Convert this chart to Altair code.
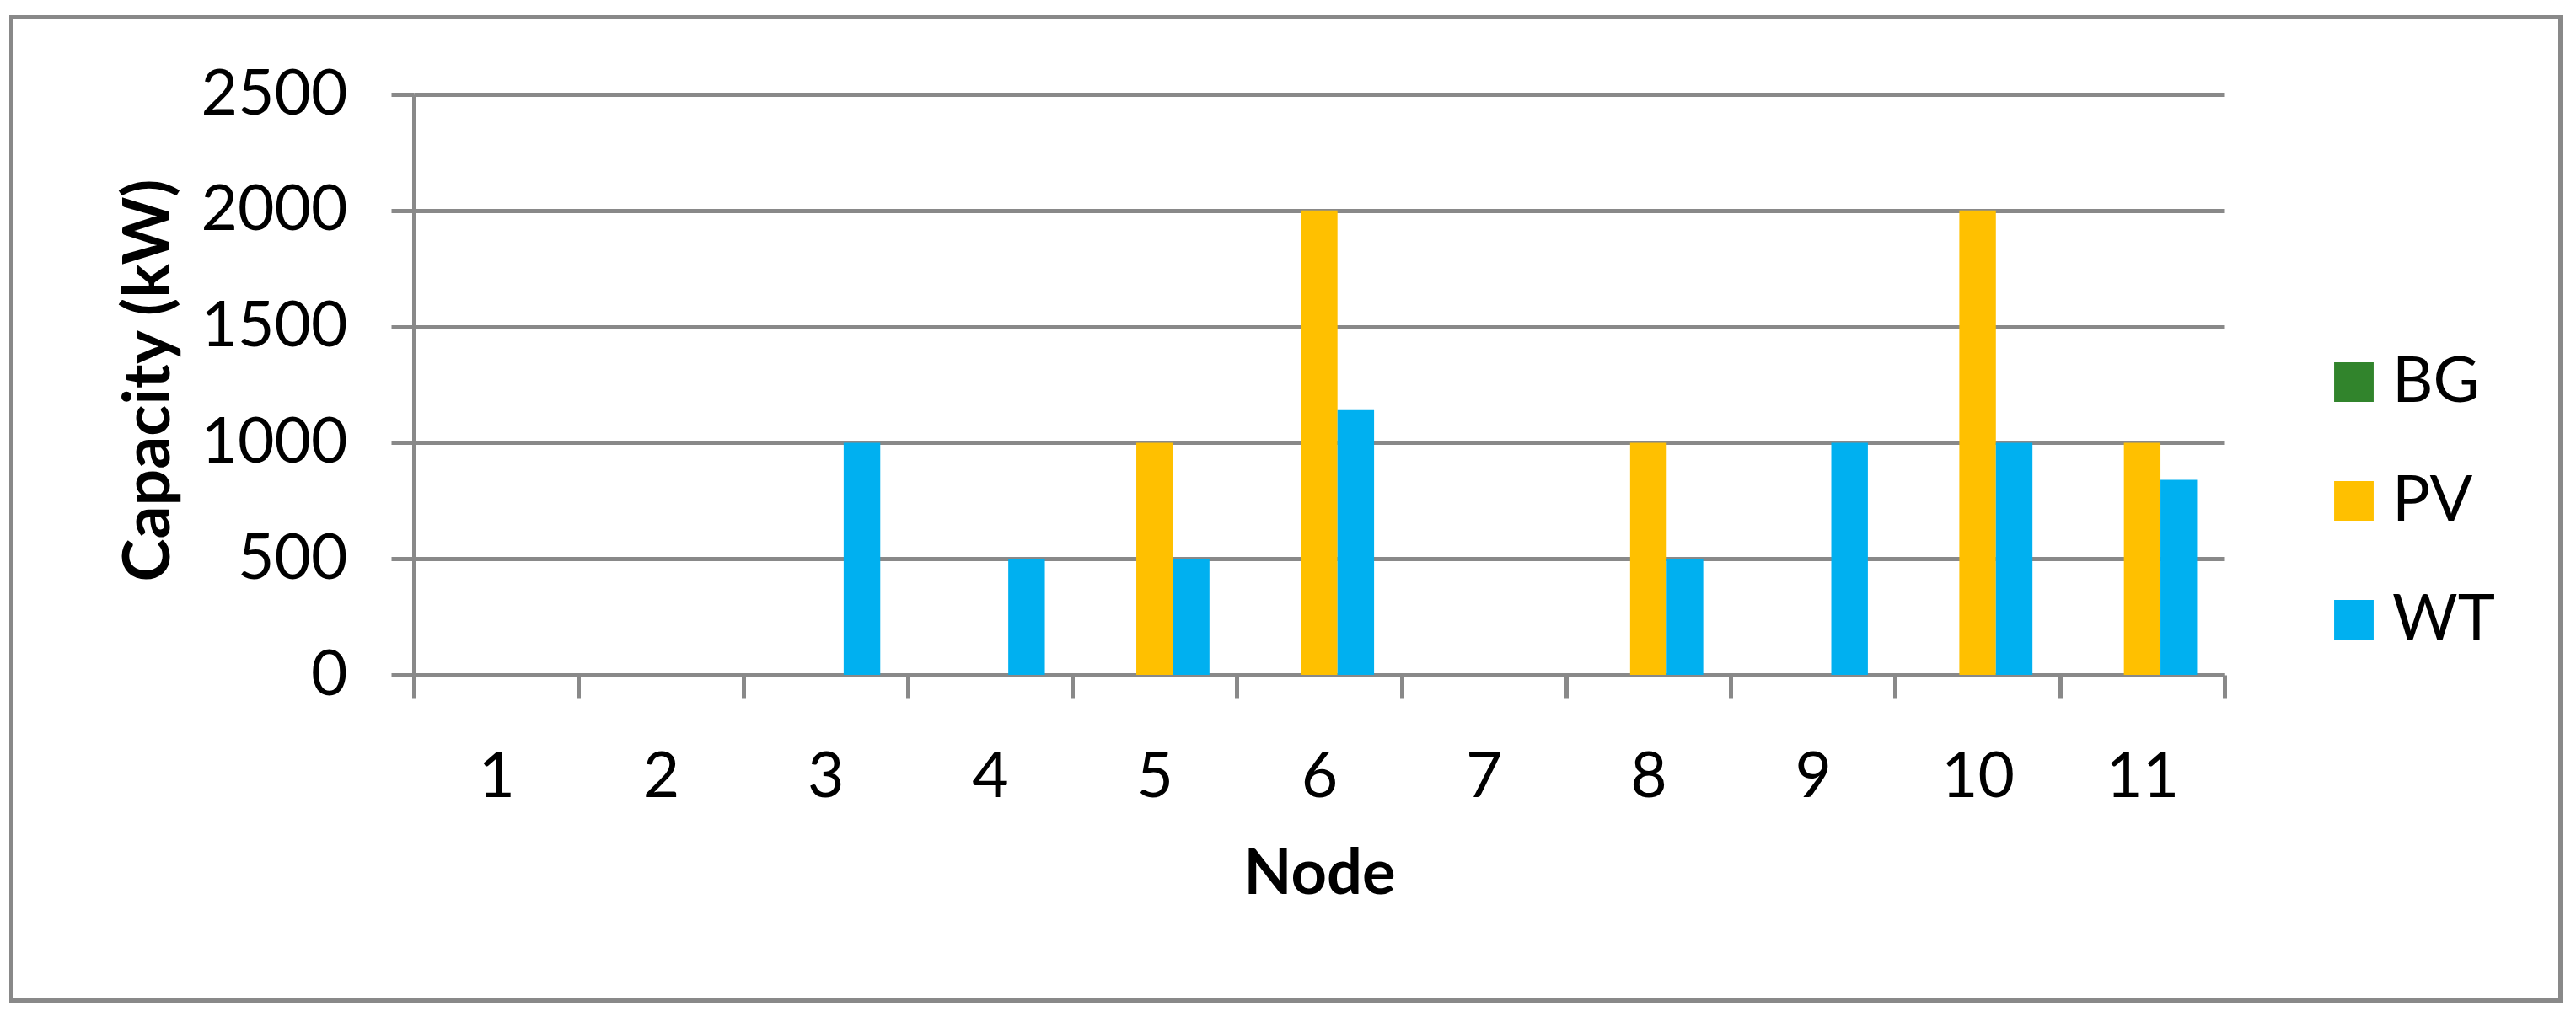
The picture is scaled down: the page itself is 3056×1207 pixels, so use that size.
import altair as alt
import pandas as pd

nodes = [1, 2, 3, 4, 5, 6, 7, 8, 9, 10, 11]
series = ["BG", "PV", "WT"]
bg_values = [0, 0, 0, 0, 0, 0, 0, 0, 0, 0, 0]
pv_values = [0, 0, 0, 0, 1000, 2000, 0, 1000, 0, 2000, 1000]
wt_values = [0, 0, 1000, 500, 500, 1140, 0, 500, 1000, 1000, 840]
y_ticks = [0, 500, 1000, 1500, 2000, 2500]
colors = ["#31842C", "#FFC000", "#00B0F0"]

GRAY = "#898989"
FONT = "Lato"

rows = []
for name, vals in zip(series, [bg_values, pv_values, wt_values]):
    for n, v in zip(nodes, vals):
        rows.append({"Node": n, "Series": name, "Capacity": v})
df = pd.DataFrame(rows)

bars = alt.Chart(df).mark_bar().encode(
    x=alt.X(
        "Node:O",
        sort=nodes,
        scale=alt.Scale(paddingInner=0, paddingOuter=0),
        axis=alt.Axis(
            title="Node",
            labelAngle=0,
            tickBand="extent",
            tickSize=27,
            tickWidth=5,
            tickColor=GRAY,
            domainColor=GRAY,
            domainWidth=5,
            labelFont=FONT,
            labelFontSize=75,
            labelColor="black",
            labelPadding=58,
            titleFont=FONT,
            titleFontSize=74,
            titleFontWeight="bold",
            titleColor="black",
            titleY=259,
            titleBaseline="alphabetic",
            grid=False,
        ),
    ),
    xOffset=alt.XOffset(
        "Series:N", sort=series, scale=alt.Scale(paddingInner=0, paddingOuter=0.75)
    ),
    y=alt.Y(
        "Capacity:Q",
        scale=alt.Scale(domain=[0, 2500], nice=False),
        axis=alt.Axis(
            title="Capacity (kW)",
            values=y_ticks,
            format="d",
            labelLimit=0,
            tickSize=27,
            tickWidth=5,
            tickColor=GRAY,
            domainColor=GRAY,
            domainWidth=5,
            grid=True,
            gridColor=GRAY,
            gridWidth=5,
            labelFont=FONT,
            labelFontSize=75,
            labelColor="black",
            labelPadding=52,
            labelFlush=False,
            titleFont=FONT,
            titleFontSize=77,
            titleFontWeight="bold",
            titleColor="black",
            titleX=-291,
            titleY=339,
            titleBaseline="alphabetic",
        ),
    ),
    color=alt.Color(
        "Series:N",
        sort=series,
        scale=alt.Scale(domain=series, range=colors),
        legend=alt.Legend(
            title=None,
            orient="none",
            legendX=2264,
            legendY=304,
            symbolType="square",
            symbolSize=2200,
            symbolStrokeWidth=0,
            symbolOpacity=1,
            labelFont=FONT,
            labelFontSize=75,
            labelColor="black",
            labelOffset=8,
            labelLimit=0,
            rowPadding=65,
            padding=0,
        ),
    ),
)

border = alt.Chart(pd.DataFrame({"k": [0]})).mark_rect(
    filled=False, stroke=GRAY, strokeWidth=5
).encode(
    x=alt.value(-477.5), x2=alt.value(2546.5), y=alt.value(-91.5), y2=alt.value(1075.5)
)

chart = alt.layer(border, bars).properties(
    width=2148,
    height=689,
    autosize=alt.AutoSizeParams(type="none"),
    padding={"left": 483, "top": 104, "right": 405, "bottom": 395},
    background="white",
).configure_view(stroke=None)

chart.save("out.html", embed_options={"renderer": "svg", "actions": False})
